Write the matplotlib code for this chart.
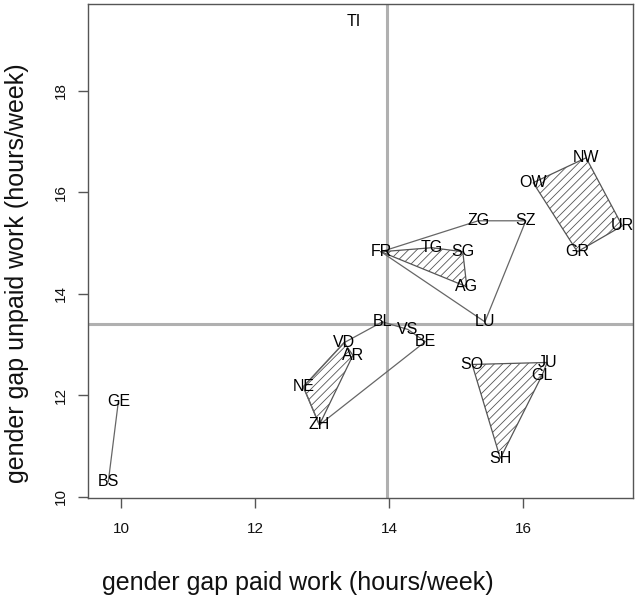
import matplotlib.pyplot as plt
from matplotlib.patches import Polygon

# canton positions (paid gap, unpaid gap)
cantons = ["TI", "NW", "OW", "UR", "GR", "ZG", "SZ", "FR", "TG", "SG", "AG", "LU",
           "BL", "VS", "BE", "VD", "AR", "NE", "ZH", "SO", "JU", "GL", "SH", "GE", "BS"]
paid = [13.48, 16.94, 16.15, 17.48, 16.81, 15.33, 16.04, 13.88, 14.64, 15.10, 15.16, 15.43,
        13.90, 14.28, 14.54, 13.33, 13.46, 12.72, 12.96, 15.24, 16.36, 16.28, 15.66, 9.96, 9.81]
unpaid = [19.36, 16.68, 16.19, 15.34, 14.83, 15.44, 15.44, 14.83, 14.91, 14.83, 14.14, 13.45,
          13.45, 13.30, 13.06, 13.04, 12.79, 12.17, 11.42, 12.61, 12.65, 12.39, 10.76, 11.88, 10.30]

# cluster outlines
hatched_groups = [["NW", "UR", "GR", "OW"],
                  ["FR", "TG", "SG", "AG"],
                  ["VD", "AR", "ZH", "NE"],
                  ["SO", "JU", "GL", "SH"]]
open_groups = [["FR", "ZG", "SZ", "LU"],
               ["BL", "VS", "BE", "ZH", "NE", "VD"],
               ["GE", "BS"]]

mean_paid = 13.97
mean_unpaid = 13.41

pos = {c: (x, y) for c, x, y in zip(cantons, paid, unpaid)}

plt.rcParams['font.family'] = ['Liberation Sans', 'DejaVu Sans']
plt.rcParams['hatch.color'] = '#6a6a6a'
plt.rcParams['hatch.linewidth'] = 0.6

fig = plt.figure(figsize=(6.35, 6.06), dpi=100)
ax = fig.add_axes([88 / 635, 1 - 498 / 606, 545 / 635, 494 / 606])

ax.axvline(mean_paid, color='#b0b0b0', lw=2.2, zorder=1)
ax.axhline(mean_unpaid, color='#b0b0b0', lw=2.2, zorder=1)

for g in hatched_groups:
    pts = [pos[c] for c in g]
    ax.add_patch(Polygon(pts, closed=True, facecolor='none', edgecolor='#555555',
                         lw=0.9, hatch='////', zorder=2))

for g in open_groups:
    pts = [pos[c] for c in g]
    if len(pts) > 2:
        pts = pts + [pts[0]]
    ax.plot([p[0] for p in pts], [p[1] for p in pts], color='#666666', lw=0.9, zorder=2)

for c, x, y in zip(cantons, paid, unpaid):
    ax.text(x, y, c, ha='center', va='center', fontsize=11.5, color='#000000', zorder=3)

ax.set_xlim(9.507, 17.64)
ax.set_ylim(9.98, 19.71)
ax.set_xticks([10, 12, 14, 16])
ax.set_yticks([10, 12, 14, 16, 18])
for s in ax.spines.values():
    s.set_color('#555555')
    s.set_linewidth(1.0)
ax.tick_params(axis='both', length=7.5, width=1.0, color='#555555', labelsize=11,
               labelcolor='#111111')
ax.tick_params(axis='x', pad=10)
ax.tick_params(axis='y', pad=7, labelrotation=90)
for lab in ax.get_yticklabels():
    lab.set_va('center')

fig.text(298 / 635, 1 - 583 / 606, "gender gap paid work (hours/week)", ha='center',
         va='center', fontsize=18, color='#111111')
fig.text(17 / 635, 1 - 273 / 606, "gender gap unpaid work (hours/week)", ha='center',
         va='center', rotation=90, fontsize=18, color='#111111')

fig.savefig("out.png", dpi=100)
